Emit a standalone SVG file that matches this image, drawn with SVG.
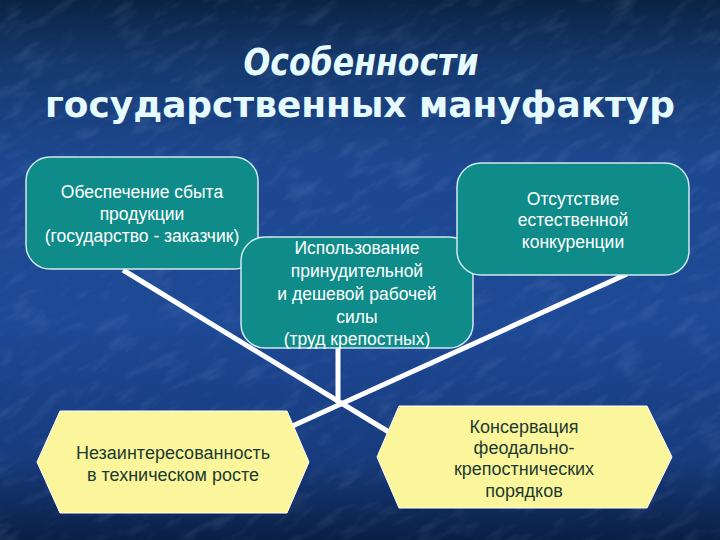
<svg xmlns="http://www.w3.org/2000/svg" width="720" height="540" viewBox="0 0 720 540">
  <defs>
    <linearGradient id="bg" x1="0" y1="0" x2="0" y2="1">
      <stop offset="0" stop-color="#0a2343"/>
      <stop offset="0.12" stop-color="#15396f"/>
      <stop offset="0.3" stop-color="#1d4890"/>
      <stop offset="0.6" stop-color="#1e4995"/>
      <stop offset="0.85" stop-color="#173b7d"/>
      <stop offset="1" stop-color="#0a1f44"/>
    </linearGradient>
    <filter id="tex" x="0" y="0" width="100%" height="100%">
      <feTurbulence type="fractalNoise" baseFrequency="0.03 0.09" numOctaves="4" seed="4" result="n"/>
      <feColorMatrix in="n" type="matrix" values="0 0 0 0 0.55  0 0 0 0 0.65  0 0 0 0 0.95  0 0 0 1.2 -0.6"/>
    </filter>
    <style>
      .box { fill: #0f8c89; stroke: #cfe8ee; stroke-width: 1.5; }
      .hex { fill: #fbf69c; stroke: #ffffff; stroke-width: 1; }
      .bt { font-family: "Liberation Sans", Arial, sans-serif; font-size: 17.5px; fill: #ffffff; text-anchor: middle; }
      .ht { font-family: "Liberation Sans", Arial, sans-serif; font-size: 18px; fill: #1d3a2f; text-anchor: middle; }
      .title { font-family: "DejaVu Sans Condensed", "DejaVu Sans", sans-serif; font-weight: bold; fill: #e6fbff; text-anchor: middle; }
      .conn { stroke: #ffffff; stroke-width: 5; fill: none; }
    </style>
  </defs>
  <rect width="720" height="540" fill="url(#bg)"/>
  <g transform="rotate(-30 360 270)" opacity="0.22">
    <rect x="-200" y="-200" width="1120" height="940" filter="url(#tex)"/>
  </g>

  <g id="title">
    <text class="title" x="361" y="75" font-size="37" font-style="italic" textLength="235" lengthAdjust="spacingAndGlyphs">Особенности</text>
    <text class="title" x="360" y="117" font-size="36" textLength="630" lengthAdjust="spacingAndGlyphs">государственных мануфактур</text>
  </g>

  <g id="connectors">
    <line class="conn" x1="123" y1="270" x2="397" y2="437"/>
    <line class="conn" x1="627" y1="274" x2="277" y2="433"/>
    <line class="conn" x1="338" y1="346" x2="338" y2="403"/>
  </g>

  <g id="box1">
    <rect class="box" x="26" y="157" width="232" height="112" rx="24"/>
    <text class="bt" x="142" y="198">Обеспечение сбыта</text>
    <text class="bt" x="142" y="220">продукции</text>
    <text class="bt" x="142" y="242">(государство - заказчик)</text>
  </g>

  <g id="box2">
    <rect class="box" x="241" y="237" width="232" height="111" rx="24"/>
    <text class="bt" x="357" y="254">Использование</text>
    <text class="bt" x="357" y="277">принудительной</text>
    <text class="bt" x="357" y="300">и дешевой рабочей</text>
    <text class="bt" x="357" y="323">силы</text>
    <text class="bt" x="357" y="345">(труд крепостных)</text>
  </g>

  <g id="box3">
    <rect class="box" x="457" y="163" width="232" height="112" rx="24"/>
    <text class="bt" x="573" y="205">Отсутствие</text>
    <text class="bt" x="573" y="226">естественной</text>
    <text class="bt" x="573" y="248">конкуренции</text>
  </g>

  <g id="hex1">
    <polygon class="hex" points="37,462 60,411 287,411 309,462 287,513 60,513"/>
    <text class="ht" x="173" y="459">Незаинтересованность</text>
    <text class="ht" x="173" y="481">в техническом росте</text>
  </g>

  <g id="hex2">
    <polygon class="hex" points="377,457 399,406 647,406 672,457 647,508 399,508"/>
    <text class="ht" x="524" y="433">Консервация</text>
    <text class="ht" x="524" y="454">феодально-</text>
    <text class="ht" x="524" y="475">крепостнических</text>
    <text class="ht" x="524" y="497">порядков</text>
  </g>
</svg>
